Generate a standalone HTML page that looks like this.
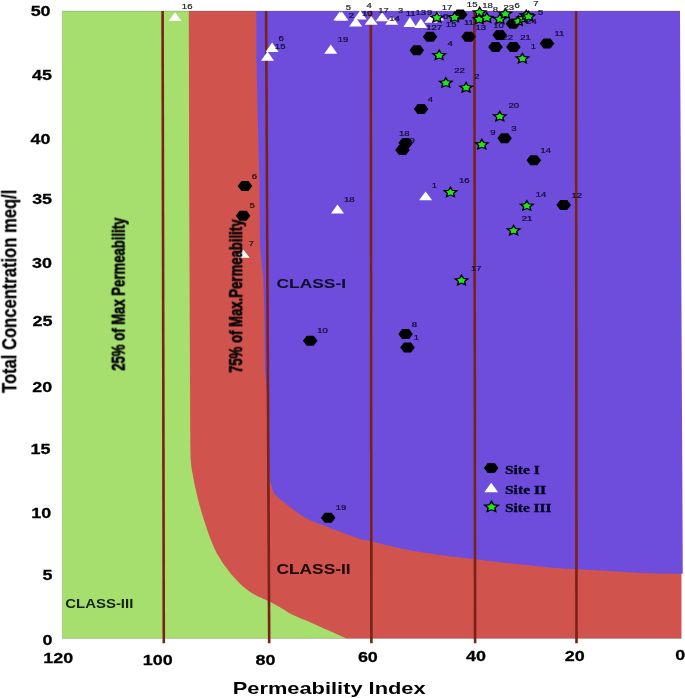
<!DOCTYPE html>
<html><head><meta charset="utf-8"><title>Permeability Index</title>
<style>html,body{margin:0;padding:0;background:#fff;font-family:"Liberation Sans",sans-serif}</style></head>
<body>
<svg width="685" height="698" viewBox="0 0 685 698" style="display:block">
<defs><filter id="b" x="-5%" y="-5%" width="110%" height="110%"><feGaussianBlur stdDeviation="0.45"/></filter><filter id="t" x="-5%" y="-5%" width="110%" height="110%"><feGaussianBlur stdDeviation="0.35"/></filter></defs>
<rect width="685" height="698" fill="#fff"/>
<clipPath id="cp"><rect x="62.3" y="11.1" width="619.2" height="627.3"/></clipPath>
<g filter="url(#b)"><g>
<rect x="57.3" y="6.1" width="622.2" height="637.3" fill="#a6df6e"/>
<polygon points="188.8,0 188.8,11.1 189.2,200.0 190.1,400.0 190.1,403.2 190.1,407.6 190.1,412.9 190.2,418.6 190.2,424.6 190.2,430.3 190.3,435.6 190.3,440.0 190.3,443.7 190.4,446.9 190.4,449.9 190.5,452.5 190.5,455.0 190.6,457.4 190.7,459.6 190.9,461.9 191.1,464.1 191.3,466.1 191.6,467.9 191.9,469.7 192.1,471.3 192.5,473.0 192.8,474.7 193.1,476.5 193.4,478.3 193.8,480.1 194.1,482.0 194.5,483.8 194.9,485.6 195.3,487.4 195.7,489.3 196.1,491.1 196.5,492.9 196.9,494.8 197.4,496.6 197.8,498.4 198.3,500.2 198.7,502.1 199.2,503.9 199.7,505.7 200.2,507.5 200.7,509.2 201.2,511.0 201.7,512.7 202.2,514.5 202.8,516.3 203.4,518.2 204.1,520.3 204.8,522.5 205.6,525.0 206.5,527.5 207.3,530.1 208.2,532.7 209.1,535.3 210.0,537.7 210.9,540.0 211.7,542.1 212.6,544.1 213.4,546.1 214.2,547.9 215.1,549.7 216.0,551.6 216.9,553.4 218.0,555.3 219.2,557.3 220.5,559.3 221.8,561.4 223.2,563.4 224.6,565.4 226.0,567.3 227.3,569.1 228.5,570.7 229.6,572.1 230.6,573.4 231.5,574.5 232.4,575.6 233.3,576.6 234.2,577.5 235.1,578.5 236.0,579.5 236.9,580.5 237.9,581.5 238.8,582.4 239.7,583.4 240.6,584.3 241.6,585.2 242.7,586.2 243.8,587.1 245.0,588.1 246.2,589.0 247.5,590.0 248.8,591.0 250.2,591.9 251.7,592.9 253.2,593.8 254.7,594.7 256.3,595.6 258.1,596.4 259.9,597.2 261.8,598.1 263.7,598.9 265.5,599.7 267.3,600.5 269.0,601.3 270.6,602.1 272.2,603.0 273.7,603.8 275.2,604.6 276.7,605.4 278.1,606.3 279.6,607.1 281.0,607.9 282.4,608.7 283.7,609.5 284.9,610.3 286.2,611.1 287.4,611.9 288.8,612.7 290.3,613.5 292.0,614.4 293.9,615.3 295.9,616.2 298.1,617.2 300.3,618.2 302.7,619.2 305.0,620.1 307.3,621.1 309.5,622.1 311.7,623.1 314.0,624.1 316.3,625.1 318.5,626.1 320.8,627.0 322.9,628.0 325.0,628.9 327.0,629.8 328.9,630.6 330.8,631.5 332.6,632.3 334.3,633.1 335.9,633.8 337.5,634.5 338.9,635.1 340.1,635.7 341.2,636.2 342.1,636.6 343.0,637.0 343.7,637.3 344.3,637.5 344.8,637.8 345.2,637.9 345.6,638.1 345.5,650 681.5,650 681.5,573 679.5,573 679.5,0" fill="#d1534d"/>
<polygon points="256.3,0 256.3,11.1 256.4,58.0 257.8,120.0 259.3,175.0 260.1,246.0 261.5,262.0 263.4,278.0 264.5,320.0 265.0,370.0 267.5,400.0 269.3,470.0 270.2,482.0 271.4,485.5 271.6,486.1 271.8,486.9 272.0,487.8 272.3,488.9 272.6,490.0 273.0,491.1 273.4,492.1 273.9,493.0 274.4,493.8 275.1,494.5 275.7,495.3 276.5,496.0 277.2,496.6 278.0,497.3 278.7,497.9 279.5,498.6 280.2,499.2 280.9,499.8 281.6,500.4 282.4,501.0 283.1,501.5 283.9,502.2 284.8,502.8 285.8,503.6 286.9,504.5 288.1,505.5 289.5,506.5 290.8,507.6 292.2,508.7 293.6,509.7 294.8,510.7 296.0,511.6 297.0,512.4 298.0,513.1 298.9,513.8 299.7,514.4 300.6,515.0 301.5,515.6 302.4,516.2 303.4,516.8 304.5,517.4 305.6,518.0 306.8,518.6 308.0,519.2 309.2,519.8 310.5,520.4 311.7,520.9 313.0,521.5 314.3,522.0 315.6,522.5 316.9,523.0 318.3,523.5 319.7,524.0 321.0,524.5 322.4,525.0 323.8,525.5 325.2,526.0 326.5,526.6 327.9,527.2 329.3,527.7 330.7,528.3 332.1,528.9 333.5,529.4 335.0,530.0 336.5,530.5 338.0,531.1 339.5,531.6 341.0,532.1 342.5,532.7 344.1,533.2 345.6,533.7 347.2,534.3 348.8,534.9 350.4,535.5 352.0,536.1 353.6,536.7 355.3,537.3 356.9,537.9 358.5,538.4 360.0,538.9 361.4,539.3 362.8,539.6 364.1,539.9 365.4,540.1 366.7,540.3 368.1,540.6 369.7,540.9 371.4,541.3 373.3,541.8 375.3,542.3 377.5,542.9 379.8,543.4 382.1,544.1 384.4,544.7 386.7,545.2 389.0,545.8 391.2,546.3 393.2,546.8 395.2,547.3 397.3,547.8 399.4,548.2 401.8,548.7 404.4,549.2 407.4,549.8 410.8,550.4 414.5,551.0 418.5,551.7 422.6,552.4 427.0,553.1 431.3,553.7 435.7,554.4 440.0,555.0 444.4,555.6 448.9,556.2 453.5,556.7 458.1,557.3 462.7,557.8 467.2,558.3 471.4,558.8 475.3,559.3 478.9,559.7 482.2,560.1 485.3,560.5 488.2,560.9 491.1,561.3 494.0,561.6 496.9,561.9 500.0,562.3 503.2,562.7 506.5,563.0 509.7,563.3 513.0,563.7 516.3,564.0 519.6,564.3 522.8,564.7 526.0,565.0 529.1,565.3 532.1,565.7 535.0,566.0 537.9,566.3 540.9,566.6 543.9,566.9 546.9,567.2 550.0,567.5 553.2,567.8 556.6,568.0 560.0,568.3 563.5,568.5 566.9,568.7 570.3,568.9 573.6,569.1 576.8,569.3 579.9,569.5 582.8,569.6 585.7,569.7 588.5,569.9 591.3,570.0 594.2,570.1 597.0,570.2 600.0,570.4 603.1,570.6 606.2,570.8 609.5,571.0 612.7,571.2 615.9,571.4 619.1,571.6 622.1,571.8 625.0,572.0 627.7,572.2 630.1,572.3 632.5,572.4 634.8,572.6 637.1,572.7 639.4,572.8 641.9,572.9 644.6,573.0 647.6,573.1 650.8,573.2 654.3,573.3 657.7,573.4 661.1,573.4 664.4,573.5 667.4,573.5 670.0,573.6 672.3,573.6 674.4,573.7 676.3,573.7 678.0,573.7 679.5,573.8 680.8,573.8 681.9,573.8 682.8,573.8 679.93,0" fill="#6e4edc"/>
<path d="M0,0H685V698H0Z M62.3,11.1V638.4H684V11.1Z" fill="#fff" fill-rule="evenodd"/>
<path d="M680,11.1H62.3V638.4H681.5" fill="none" stroke="#555" stroke-opacity="0.3" stroke-width="0.8"/>
</g></g>
<g filter="url(#b)">
<line x1="162.6" y1="11.1" x2="163.8" y2="643.2" stroke="#7a2219" stroke-width="2.6"/>
<line x1="266.1" y1="11.1" x2="269.2" y2="643.2" stroke="#7a2219" stroke-width="2.6"/>
<line x1="370.8" y1="11.1" x2="371.4" y2="643.2" stroke="#7a2219" stroke-width="2.6"/>
<line x1="474.4" y1="11.1" x2="475.1" y2="643.2" stroke="#7a2219" stroke-width="2.6"/>
<line x1="576.1" y1="11.1" x2="576.5" y2="643.2" stroke="#7a2219" stroke-width="2.6"/>
</g>
<g filter="url(#b)">
<polygon points="452.9,14.5 456.7,9.5 463.7,9.5 467.5,14.5 463.7,19.5 456.7,19.5" fill="#000"/>
<polygon points="422.8,36.8 426.6,31.8 433.6,31.8 437.4,36.8 433.6,41.8 426.6,41.8" fill="#000"/>
<polygon points="409.5,50.3 413.3,45.3 420.3,45.3 424.1,50.3 420.3,55.3 413.3,55.3" fill="#000"/>
<polygon points="461.2,36.8 465.0,31.8 472.0,31.8 475.8,36.8 472.0,41.8 465.0,41.8" fill="#000"/>
<polygon points="492.4,35.1 496.2,30.1 503.2,30.1 507.0,35.1 503.2,40.1 496.2,40.1" fill="#000"/>
<polygon points="488.2,47.0 492.0,42.0 499.0,42.0 502.8,47.0 499.0,52.0 492.0,52.0" fill="#000"/>
<polygon points="506.1,47.1 509.9,42.1 516.9,42.1 520.7,47.1 516.9,52.1 509.9,52.1" fill="#000"/>
<polygon points="505.7,23.7 509.5,18.7 516.5,18.7 520.3,23.7 516.5,28.7 509.5,28.7" fill="#000"/>
<polygon points="539.7,43.6 543.5,38.6 550.5,38.6 554.3,43.6 550.5,48.6 543.5,48.6" fill="#000"/>
<polygon points="413.8,109.0 417.6,104.0 424.6,104.0 428.4,109.0 424.6,114.0 417.6,114.0" fill="#000"/>
<polygon points="398.4,142.9 402.2,137.9 409.2,137.9 413.0,142.9 409.2,147.9 402.2,147.9" fill="#000"/>
<polygon points="395.2,150.0 399.0,145.0 406.0,145.0 409.8,150.0 406.0,155.0 399.0,155.0" fill="#000"/>
<polygon points="497.3,138.2 501.1,133.2 508.1,133.2 511.9,138.2 508.1,143.2 501.1,143.2" fill="#000"/>
<polygon points="526.5,160.3 530.3,155.3 537.3,155.3 541.1,160.3 537.3,165.3 530.3,165.3" fill="#000"/>
<polygon points="556.4,205.0 560.2,200.0 567.2,200.0 571.0,205.0 567.2,210.0 560.2,210.0" fill="#000"/>
<polygon points="237.7,186.0 241.5,181.0 248.5,181.0 252.3,186.0 248.5,191.0 241.5,191.0" fill="#000"/>
<polygon points="235.8,215.8 239.6,210.8 246.6,210.8 250.4,215.8 246.6,220.8 239.6,220.8" fill="#000"/>
<polygon points="302.9,340.8 306.7,335.8 313.7,335.8 317.5,340.8 313.7,345.8 306.7,345.8" fill="#000"/>
<polygon points="398.3,334.0 402.1,329.0 409.1,329.0 412.9,334.0 409.1,339.0 402.1,339.0" fill="#000"/>
<polygon points="400.2,347.5 404.0,342.5 411.0,342.5 414.8,347.5 411.0,352.5 404.0,352.5" fill="#000"/>
<polygon points="320.9,517.7 324.7,512.7 331.7,512.7 335.5,517.7 331.7,522.7 324.7,522.7" fill="#000"/>
<polygon points="175.0,12.2 181.5,21.0 168.5,21.0" fill="#fff"/>
<polygon points="339.8,11.6 346.3,20.6 333.3,20.6" fill="#fff"/>
<polygon points="341.9,11.6 348.4,20.6 335.4,20.6" fill="#fff"/>
<polygon points="355.7,17.5 362.2,26.6 349.2,26.6" fill="#fff"/>
<polygon points="360.2,10.4 366.7,19.4 353.7,19.4" fill="#fff"/>
<polygon points="371.2,16.0 377.7,24.7 364.7,24.7" fill="#fff"/>
<polygon points="382.2,12.3 388.7,21.3 375.7,21.3" fill="#fff"/>
<polygon points="391.7,15.6 398.2,24.7 385.2,24.7" fill="#fff"/>
<polygon points="409.9,17.1 416.4,26.9 403.4,26.9" fill="#fff"/>
<polygon points="420.8,18.5 427.3,28.0 414.3,28.0" fill="#fff"/>
<polygon points="431.0,14.5 437.5,22.8 424.5,22.8" fill="#fff"/>
<polygon points="437.5,11.5 444.0,20.5 431.0,20.5" fill="#fff"/>
<polygon points="330.8,44.6 337.3,53.7 324.3,53.7" fill="#fff"/>
<polygon points="272.1,42.5 278.6,51.9 265.6,51.9" fill="#fff"/>
<polygon points="267.5,51.6 274.0,60.8 261.0,60.8" fill="#fff"/>
<polygon points="425.6,191.5 432.1,200.2 419.1,200.2" fill="#fff"/>
<polygon points="337.5,204.6 344.0,213.6 331.0,213.6" fill="#fff"/>
<polygon points="243.2,249.6 249.7,257.8 236.7,257.8" fill="#fff"/>
<polygon points="436.90,11.04 439.25,15.19 444.99,15.67 440.70,18.71 441.90,23.16 436.90,20.89 431.90,23.16 433.10,18.71 428.81,15.67 434.55,15.19" fill="#050505"/><polygon points="436.90,14.05 438.44,16.07 441.35,16.60 439.39,18.37 439.65,20.72 436.90,19.80 434.15,20.72 434.41,18.37 432.45,16.60 435.36,16.07" fill="#1fe61f"/>
<polygon points="454.60,10.74 456.95,14.89 462.69,15.37 458.40,18.41 459.60,22.86 454.60,20.59 449.60,22.86 450.80,18.41 446.51,15.37 452.25,14.89" fill="#050505"/><polygon points="454.60,13.75 456.14,15.77 459.05,16.30 457.09,18.07 457.35,20.42 454.60,19.50 451.85,20.42 452.11,18.07 450.15,16.30 453.06,15.77" fill="#1fe61f"/>
<polygon points="479.70,5.84 482.05,9.99 487.79,10.47 483.50,13.51 484.70,17.96 479.70,15.69 474.70,17.96 475.90,13.51 471.61,10.47 477.35,9.99" fill="#050505"/><polygon points="479.70,8.85 481.24,10.87 484.15,11.40 482.19,13.17 482.45,15.52 479.70,14.60 476.95,15.52 477.21,13.17 475.25,11.40 478.16,10.87" fill="#1fe61f"/>
<polygon points="479.20,12.74 481.55,16.89 487.29,17.37 483.00,20.41 484.20,24.86 479.20,22.59 474.20,24.86 475.40,20.41 471.11,17.37 476.85,16.89" fill="#050505"/><polygon points="479.20,15.75 480.74,17.77 483.65,18.30 481.69,20.07 481.95,22.42 479.20,21.50 476.45,22.42 476.71,20.07 474.75,18.30 477.66,17.77" fill="#1fe61f"/>
<polygon points="486.80,11.34 489.15,15.49 494.89,15.97 490.60,19.01 491.80,23.46 486.80,21.19 481.80,23.46 483.00,19.01 478.71,15.97 484.45,15.49" fill="#050505"/><polygon points="486.80,14.35 488.34,16.37 491.25,16.90 489.29,18.67 489.55,21.02 486.80,20.10 484.05,21.02 484.31,18.67 482.35,16.90 485.26,16.37" fill="#1fe61f"/>
<polygon points="499.90,12.54 502.25,16.69 507.99,17.17 503.70,20.21 504.90,24.66 499.90,22.39 494.90,24.66 496.10,20.21 491.81,17.17 497.55,16.69" fill="#050505"/><polygon points="499.90,15.55 501.44,17.57 504.35,18.10 502.39,19.87 502.65,22.22 499.90,21.30 497.15,22.22 497.41,19.87 495.45,18.10 498.36,17.57" fill="#1fe61f"/>
<polygon points="505.40,7.14 507.75,11.29 513.49,11.77 509.20,14.81 510.40,19.26 505.40,16.99 500.40,19.26 501.60,14.81 497.31,11.77 503.05,11.29" fill="#050505"/><polygon points="505.40,10.15 506.94,12.17 509.85,12.70 507.89,14.47 508.15,16.82 505.40,15.90 502.65,16.82 502.91,14.47 500.95,12.70 503.86,12.17" fill="#1fe61f"/>
<polygon points="518.30,14.44 520.65,18.59 526.39,19.07 522.10,22.11 523.30,26.56 518.30,24.29 513.30,26.56 514.50,22.11 510.21,19.07 515.95,18.59" fill="#050505"/><polygon points="518.30,17.45 519.84,19.47 522.75,20.00 520.79,21.77 521.05,24.12 518.30,23.20 515.55,24.12 515.81,21.77 513.85,20.00 516.76,19.47" fill="#1fe61f"/>
<polygon points="523.40,11.94 525.75,16.09 531.49,16.57 527.20,19.61 528.40,24.06 523.40,21.79 518.40,24.06 519.60,19.61 515.31,16.57 521.05,16.09" fill="#050505"/><polygon points="523.40,14.95 524.94,16.97 527.85,17.50 525.89,19.27 526.15,21.62 523.40,20.70 520.65,21.62 520.91,19.27 518.95,17.50 521.86,16.97" fill="#1fe61f"/>
<polygon points="526.30,8.74 528.65,12.89 534.39,13.37 530.10,16.41 531.30,20.86 526.30,18.59 521.30,20.86 522.50,16.41 518.21,13.37 523.95,12.89" fill="#050505"/><polygon points="526.30,11.75 527.84,13.77 530.75,14.30 528.79,16.07 529.05,18.42 526.30,17.50 523.55,18.42 523.81,16.07 521.85,14.30 524.76,13.77" fill="#1fe61f"/>
<polygon points="528.60,9.94 530.95,14.09 536.69,14.57 532.40,17.61 533.60,22.06 528.60,19.79 523.60,22.06 524.80,17.61 520.51,14.57 526.25,14.09" fill="#050505"/><polygon points="528.60,12.95 530.14,14.97 533.05,15.50 531.09,17.27 531.35,19.62 528.60,18.70 525.85,19.62 526.11,17.27 524.15,15.50 527.06,14.97" fill="#1fe61f"/>
<polygon points="439.20,48.74 441.55,52.89 447.29,53.37 443.00,56.41 444.20,60.86 439.20,58.59 434.20,60.86 435.40,56.41 431.11,53.37 436.85,52.89" fill="#050505"/><polygon points="439.20,51.75 440.74,53.77 443.65,54.30 441.69,56.07 441.95,58.42 439.20,57.50 436.45,58.42 436.71,56.07 434.75,54.30 437.66,53.77" fill="#1fe61f"/>
<polygon points="522.40,51.94 524.75,56.09 530.49,56.57 526.20,59.61 527.40,64.06 522.40,61.79 517.40,64.06 518.60,59.61 514.31,56.57 520.05,56.09" fill="#050505"/><polygon points="522.40,54.95 523.94,56.97 526.85,57.50 524.89,59.27 525.15,61.62 522.40,60.70 519.65,61.62 519.91,59.27 517.95,57.50 520.86,56.97" fill="#1fe61f"/>
<polygon points="445.80,76.24 448.15,80.39 453.89,80.87 449.60,83.91 450.80,88.36 445.80,86.09 440.80,88.36 442.00,83.91 437.71,80.87 443.45,80.39" fill="#050505"/><polygon points="445.80,79.25 447.34,81.27 450.25,81.80 448.29,83.57 448.55,85.92 445.80,85.00 443.05,85.92 443.31,83.57 441.35,81.80 444.26,81.27" fill="#1fe61f"/>
<polygon points="466.10,81.04 468.45,85.19 474.19,85.67 469.90,88.71 471.10,93.16 466.10,90.89 461.10,93.16 462.30,88.71 458.01,85.67 463.75,85.19" fill="#050505"/><polygon points="466.10,84.05 467.64,86.07 470.55,86.60 468.59,88.37 468.85,90.72 466.10,89.80 463.35,90.72 463.61,88.37 461.65,86.60 464.56,86.07" fill="#1fe61f"/>
<polygon points="499.80,109.94 502.15,114.09 507.89,114.57 503.60,117.61 504.80,122.06 499.80,119.79 494.80,122.06 496.00,117.61 491.71,114.57 497.45,114.09" fill="#050505"/><polygon points="499.80,112.95 501.34,114.97 504.25,115.50 502.29,117.27 502.55,119.62 499.80,118.70 497.05,119.62 497.31,117.27 495.35,115.50 498.26,114.97" fill="#1fe61f"/>
<polygon points="481.80,137.94 484.15,142.09 489.89,142.57 485.60,145.61 486.80,150.06 481.80,147.79 476.80,150.06 478.00,145.61 473.71,142.57 479.45,142.09" fill="#050505"/><polygon points="481.80,140.95 483.34,142.97 486.25,143.50 484.29,145.27 484.55,147.62 481.80,146.70 479.05,147.62 479.31,145.27 477.35,143.50 480.26,142.97" fill="#1fe61f"/>
<polygon points="450.50,185.74 452.85,189.89 458.59,190.37 454.30,193.41 455.50,197.86 450.50,195.59 445.50,197.86 446.70,193.41 442.41,190.37 448.15,189.89" fill="#050505"/><polygon points="450.50,188.75 452.04,190.77 454.95,191.30 452.99,193.07 453.25,195.42 450.50,194.50 447.75,195.42 448.01,193.07 446.05,191.30 448.96,190.77" fill="#1fe61f"/>
<polygon points="526.80,199.24 529.15,203.39 534.89,203.87 530.60,206.91 531.80,211.36 526.80,209.09 521.80,211.36 523.00,206.91 518.71,203.87 524.45,203.39" fill="#050505"/><polygon points="526.80,202.25 528.34,204.27 531.25,204.80 529.29,206.57 529.55,208.92 526.80,208.00 524.05,208.92 524.31,206.57 522.35,204.80 525.26,204.27" fill="#1fe61f"/>
<polygon points="513.60,223.94 515.95,228.09 521.69,228.57 517.40,231.61 518.60,236.06 513.60,233.79 508.60,236.06 509.80,231.61 505.51,228.57 511.25,228.09" fill="#050505"/><polygon points="513.60,226.95 515.14,228.97 518.05,229.50 516.09,231.27 516.35,233.62 513.60,232.70 510.85,233.62 511.11,231.27 509.15,229.50 512.06,228.97" fill="#1fe61f"/>
<polygon points="461.50,273.84 463.85,277.99 469.59,278.47 465.30,281.51 466.50,285.96 461.50,283.69 456.50,285.96 457.70,281.51 453.41,278.47 459.15,277.99" fill="#050505"/><polygon points="461.50,276.85 463.04,278.87 465.95,279.40 463.99,281.17 464.25,283.52 461.50,282.60 458.75,283.52 459.01,281.17 457.05,279.40 459.96,278.87" fill="#1fe61f"/>
<polygon points="483.9,468.0 487.7,463.0 494.7,463.0 498.5,468.0 494.7,473.0 487.7,473.0" fill="#000"/>
<polygon points="491.2,482.8 498.1,492.3 484.3,492.3" fill="#fff"/>
<polygon points="491.50,499.78 494.03,504.25 500.20,504.76 495.59,508.03 496.87,512.81 491.50,510.37 486.13,512.81 487.41,508.03 482.80,504.76 488.97,504.25" fill="#050505"/><polygon points="491.50,503.02 493.16,505.19 496.28,505.76 494.18,507.67 494.46,510.19 491.50,509.20 488.54,510.19 488.82,507.67 486.72,505.76 489.84,505.19" fill="#1fe61f"/>
</g>
<g filter="url(#t)">
<text transform="translate(30.63,16.26) scale(1.3000,1)" font-family="Liberation Sans" font-weight="bold" font-size="13.80" fill="#000" stroke="#000" stroke-width="0.25">50</text>
<text transform="translate(31.93,80.09) scale(1.3000,1)" font-family="Liberation Sans" font-weight="bold" font-size="13.80" fill="#000" stroke="#000" stroke-width="0.25">45</text>
<text transform="translate(30.57,143.86) scale(1.3000,1)" font-family="Liberation Sans" font-weight="bold" font-size="13.80" fill="#000" stroke="#000" stroke-width="0.25">40</text>
<text transform="translate(32.14,203.66) scale(1.3000,1)" font-family="Liberation Sans" font-weight="bold" font-size="13.80" fill="#000" stroke="#000" stroke-width="0.25">35</text>
<text transform="translate(32.08,267.56) scale(1.3000,1)" font-family="Liberation Sans" font-weight="bold" font-size="13.80" fill="#000" stroke="#000" stroke-width="0.25">30</text>
<text transform="translate(32.45,326.16) scale(1.3000,1)" font-family="Liberation Sans" font-weight="bold" font-size="13.80" fill="#000" stroke="#000" stroke-width="0.25">25</text>
<text transform="translate(32.19,391.86) scale(1.3000,1)" font-family="Liberation Sans" font-weight="bold" font-size="13.80" fill="#000" stroke="#000" stroke-width="0.25">20</text>
<text transform="translate(30.53,454.09) scale(1.3000,1)" font-family="Liberation Sans" font-weight="bold" font-size="13.80" fill="#000" stroke="#000" stroke-width="0.25">15</text>
<text transform="translate(31.36,517.76) scale(1.3000,1)" font-family="Liberation Sans" font-weight="bold" font-size="13.80" fill="#000" stroke="#000" stroke-width="0.25">10</text>
<text transform="translate(42.58,580.29) scale(1.3000,1)" font-family="Liberation Sans" font-weight="bold" font-size="13.80" fill="#000" stroke="#000" stroke-width="0.25">5</text>
<text transform="translate(42.62,644.66) scale(1.3000,1)" font-family="Liberation Sans" font-weight="bold" font-size="13.80" fill="#000" stroke="#000" stroke-width="0.25">0</text>
<text transform="translate(43.19,662.96) scale(1.3000,1)" font-family="Liberation Sans" font-weight="bold" font-size="13.80" fill="#000" stroke="#000" stroke-width="0.25">120</text>
<text transform="translate(142.69,664.76) scale(1.3000,1)" font-family="Liberation Sans" font-weight="bold" font-size="13.80" fill="#000" stroke="#000" stroke-width="0.25">100</text>
<text transform="translate(255.43,664.76) scale(1.3000,1)" font-family="Liberation Sans" font-weight="bold" font-size="13.80" fill="#000" stroke="#000" stroke-width="0.25">80</text>
<text transform="translate(357.89,661.96) scale(1.3000,1)" font-family="Liberation Sans" font-weight="bold" font-size="13.80" fill="#000" stroke="#000" stroke-width="0.25">60</text>
<text transform="translate(465.97,660.66) scale(1.3000,1)" font-family="Liberation Sans" font-weight="bold" font-size="13.80" fill="#000" stroke="#000" stroke-width="0.25">40</text>
<text transform="translate(564.79,660.66) scale(1.3000,1)" font-family="Liberation Sans" font-weight="bold" font-size="13.80" fill="#000" stroke="#000" stroke-width="0.25">20</text>
<text transform="translate(675.32,659.76) scale(1.3000,1)" font-family="Liberation Sans" font-weight="bold" font-size="13.80" fill="#000" stroke="#000" stroke-width="0.25">0</text>
<text transform="translate(16.24,392.87) rotate(-90) scale(0.7997,1)" font-family="Liberation Sans" font-weight="bold" font-size="20.75" fill="#000" stroke="#000" stroke-width="0.25">Total Concentration meq/l</text>
<text transform="translate(232.68,693.79) scale(1.3433,1)" font-family="Liberation Sans" font-weight="bold" font-size="16.26" fill="#000" >Permeability Index</text>
<text transform="translate(65.20,607.77) scale(1.1807,1)" font-family="Liberation Sans" font-weight="bold" font-size="12.68" fill="#16240f" >CLASS-III</text>
<text transform="translate(276.41,574.15) scale(1.1968,1)" font-family="Liberation Sans" font-weight="bold" font-size="14.51" fill="#1c0808" >CLASS-II</text>
<text transform="translate(276.50,288.36) scale(1.2871,1)" font-family="Liberation Sans" font-weight="bold" font-size="13.52" fill="#0c0a26" >CLASS-I</text>
<text transform="translate(124.70,370.76) rotate(-90) scale(0.7269,1)" font-family="Liberation Sans" font-weight="bold" font-size="18.07" fill="#000" stroke="#000" stroke-width="0.5" vector-effect="non-scaling-stroke" stroke-linejoin="round">25% of Max Permeability</text>
<text transform="translate(242.18,372.93) rotate(-90) scale(0.7239,1)" font-family="Liberation Sans" font-weight="bold" font-size="18.18" fill="#000" stroke="#000" stroke-width="0.5" vector-effect="non-scaling-stroke" stroke-linejoin="round">75% of Max.Permeability</text>
</g>
<g filter="url(#t)">
<text transform="translate(181.85,9.19) scale(1.2700,1)" font-family="Liberation Sans" font-weight="normal" font-size="7.50" fill="#222" stroke="#222" stroke-width="0.2">16</text>
<text transform="translate(345.86,9.55) scale(1.2700,1)" font-family="Liberation Sans" font-weight="normal" font-size="7.50" fill="#222" stroke="#222" stroke-width="0.2">5</text>
<text transform="translate(366.40,7.89) scale(1.2700,1)" font-family="Liberation Sans" font-weight="normal" font-size="7.50" fill="#222" stroke="#222" stroke-width="0.2">4</text>
<text transform="translate(348.66,18.02) scale(1.2700,1)" font-family="Liberation Sans" font-weight="normal" font-size="7.50" fill="#0f0b33" stroke="#0f0b33" stroke-width="0.2">2</text>
<text transform="translate(361.92,15.89) scale(1.2700,1)" font-family="Liberation Sans" font-weight="normal" font-size="7.50" fill="#0f0b33" stroke="#0f0b33" stroke-width="0.2">10</text>
<text transform="translate(378.19,12.79) scale(1.2700,1)" font-family="Liberation Sans" font-weight="normal" font-size="7.50" fill="#222" stroke="#222" stroke-width="0.2">17</text>
<text transform="translate(397.96,12.99) scale(1.2700,1)" font-family="Liberation Sans" font-weight="normal" font-size="7.50" fill="#222" stroke="#222" stroke-width="0.2">3</text>
<text transform="translate(389.30,21.49) scale(1.2700,1)" font-family="Liberation Sans" font-weight="normal" font-size="7.50" fill="#0f0b33" stroke="#0f0b33" stroke-width="0.2">14</text>
<text transform="translate(405.63,16.29) scale(1.2700,1)" font-family="Liberation Sans" font-weight="normal" font-size="7.50" fill="#0f0b33" stroke="#0f0b33" stroke-width="0.2">11</text>
<text transform="translate(415.55,14.59) scale(1.2700,1)" font-family="Liberation Sans" font-weight="normal" font-size="7.50" fill="#0f0b33" stroke="#0f0b33" stroke-width="0.2">13</text>
<text transform="translate(427.06,15.49) scale(1.2700,1)" font-family="Liberation Sans" font-weight="normal" font-size="7.50" fill="#0f0b33" stroke="#0f0b33" stroke-width="0.2">9</text>
<text transform="translate(426.25,29.62) scale(1.2700,1)" font-family="Liberation Sans" font-weight="normal" font-size="7.50" fill="#0f0b33" stroke="#0f0b33" stroke-width="0.2">127</text>
<text transform="translate(337.67,42.09) scale(1.2700,1)" font-family="Liberation Sans" font-weight="normal" font-size="7.50" fill="#0f0b33" stroke="#0f0b33" stroke-width="0.2">19</text>
<text transform="translate(441.69,10.39) scale(1.2700,1)" font-family="Liberation Sans" font-weight="normal" font-size="7.50" fill="#222" stroke="#222" stroke-width="0.2">17</text>
<text transform="translate(466.85,7.15) scale(1.2700,1)" font-family="Liberation Sans" font-weight="normal" font-size="7.50" fill="#222" stroke="#222" stroke-width="0.2">15</text>
<text transform="translate(482.15,8.09) scale(1.2700,1)" font-family="Liberation Sans" font-weight="normal" font-size="7.50" fill="#222" stroke="#222" stroke-width="0.2">18</text>
<text transform="translate(492.73,11.69) scale(1.2700,1)" font-family="Liberation Sans" font-weight="normal" font-size="7.50" fill="#222" stroke="#222" stroke-width="0.2">8</text>
<text transform="translate(503.47,9.79) scale(1.2700,1)" font-family="Liberation Sans" font-weight="normal" font-size="7.50" fill="#222" stroke="#222" stroke-width="0.2">23</text>
<text transform="translate(514.51,8.29) scale(1.2700,1)" font-family="Liberation Sans" font-weight="normal" font-size="7.50" fill="#222" stroke="#222" stroke-width="0.2">6</text>
<text transform="translate(533.16,6.09) scale(1.2700,1)" font-family="Liberation Sans" font-weight="normal" font-size="7.50" fill="#222" stroke="#222" stroke-width="0.2">7</text>
<text transform="translate(537.96,14.75) scale(1.2700,1)" font-family="Liberation Sans" font-weight="normal" font-size="7.50" fill="#0f0b33" stroke="#0f0b33" stroke-width="0.2">5</text>
<text transform="translate(526.12,24.43) scale(1.2700,1)" font-family="Liberation Sans" font-weight="normal" font-size="7.50" fill="#0f0b33" stroke="#0f0b33" stroke-width="0.2">24</text>
<text transform="translate(445.85,27.25) scale(1.2700,1)" font-family="Liberation Sans" font-weight="normal" font-size="7.50" fill="#0f0b33" stroke="#0f0b33" stroke-width="0.2">15</text>
<text transform="translate(463.93,24.99) scale(1.2700,1)" font-family="Liberation Sans" font-weight="normal" font-size="7.50" fill="#0f0b33" stroke="#0f0b33" stroke-width="0.2">11</text>
<text transform="translate(475.55,29.59) scale(1.2700,1)" font-family="Liberation Sans" font-weight="normal" font-size="7.50" fill="#0f0b33" stroke="#0f0b33" stroke-width="0.2">13</text>
<text transform="translate(493.22,28.19) scale(1.2700,1)" font-family="Liberation Sans" font-weight="normal" font-size="7.50" fill="#0f0b33" stroke="#0f0b33" stroke-width="0.2">10</text>
<text transform="translate(502.41,39.62) scale(1.2700,1)" font-family="Liberation Sans" font-weight="normal" font-size="7.50" fill="#0f0b33" stroke="#0f0b33" stroke-width="0.2">22</text>
<text transform="translate(520.29,39.62) scale(1.2700,1)" font-family="Liberation Sans" font-weight="normal" font-size="7.50" fill="#0f0b33" stroke="#0f0b33" stroke-width="0.2">21</text>
<text transform="translate(530.71,49.09) scale(1.2700,1)" font-family="Liberation Sans" font-weight="normal" font-size="7.50" fill="#0f0b33" stroke="#0f0b33" stroke-width="0.2">1</text>
<text transform="translate(447.40,45.89) scale(1.2700,1)" font-family="Liberation Sans" font-weight="normal" font-size="7.50" fill="#0f0b33" stroke="#0f0b33" stroke-width="0.2">4</text>
<text transform="translate(442.91,19.29) scale(1.2700,1)" font-family="Liberation Sans" font-weight="normal" font-size="7.50" fill="#0f0b33" stroke="#0f0b33" stroke-width="0.2">6</text>
<text transform="translate(554.43,36.39) scale(1.2700,1)" font-family="Liberation Sans" font-weight="normal" font-size="7.50" fill="#0f0b33" stroke="#0f0b33" stroke-width="0.2">11</text>
<text transform="translate(454.31,73.03) scale(1.2700,1)" font-family="Liberation Sans" font-weight="normal" font-size="7.50" fill="#0f0b33" stroke="#0f0b33" stroke-width="0.2">22</text>
<text transform="translate(474.36,78.53) scale(1.2700,1)" font-family="Liberation Sans" font-weight="normal" font-size="7.50" fill="#0f0b33" stroke="#0f0b33" stroke-width="0.2">2</text>
<text transform="translate(427.80,101.89) scale(1.2700,1)" font-family="Liberation Sans" font-weight="normal" font-size="7.50" fill="#0f0b33" stroke="#0f0b33" stroke-width="0.2">4</text>
<text transform="translate(508.54,107.59) scale(1.2700,1)" font-family="Liberation Sans" font-weight="normal" font-size="7.50" fill="#0f0b33" stroke="#0f0b33" stroke-width="0.2">20</text>
<text transform="translate(511.26,130.79) scale(1.2700,1)" font-family="Liberation Sans" font-weight="normal" font-size="7.50" fill="#0f0b33" stroke="#0f0b33" stroke-width="0.2">3</text>
<text transform="translate(490.36,135.29) scale(1.2700,1)" font-family="Liberation Sans" font-weight="normal" font-size="7.50" fill="#0f0b33" stroke="#0f0b33" stroke-width="0.2">9</text>
<text transform="translate(398.95,135.59) scale(1.2700,1)" font-family="Liberation Sans" font-weight="normal" font-size="7.50" fill="#0f0b33" stroke="#0f0b33" stroke-width="0.2">18</text>
<text transform="translate(409.46,142.69) scale(1.2700,1)" font-family="Liberation Sans" font-weight="normal" font-size="7.50" fill="#0f0b33" stroke="#0f0b33" stroke-width="0.2">9</text>
<text transform="translate(540.50,152.99) scale(1.2700,1)" font-family="Liberation Sans" font-weight="normal" font-size="7.50" fill="#0f0b33" stroke="#0f0b33" stroke-width="0.2">14</text>
<text transform="translate(459.05,183.19) scale(1.2700,1)" font-family="Liberation Sans" font-weight="normal" font-size="7.50" fill="#0f0b33" stroke="#0f0b33" stroke-width="0.2">16</text>
<text transform="translate(431.81,188.29) scale(1.2700,1)" font-family="Liberation Sans" font-weight="normal" font-size="7.50" fill="#0f0b33" stroke="#0f0b33" stroke-width="0.2">1</text>
<text transform="translate(535.70,196.99) scale(1.2700,1)" font-family="Liberation Sans" font-weight="normal" font-size="7.50" fill="#0f0b33" stroke="#0f0b33" stroke-width="0.2">14</text>
<text transform="translate(571.49,197.93) scale(1.2700,1)" font-family="Liberation Sans" font-weight="normal" font-size="7.50" fill="#0f0b33" stroke="#0f0b33" stroke-width="0.2">12</text>
<text transform="translate(521.69,221.43) scale(1.2700,1)" font-family="Liberation Sans" font-weight="normal" font-size="7.50" fill="#0f0b33" stroke="#0f0b33" stroke-width="0.2">21</text>
<text transform="translate(470.89,270.59) scale(1.2700,1)" font-family="Liberation Sans" font-weight="normal" font-size="7.50" fill="#0f0b33" stroke="#0f0b33" stroke-width="0.2">17</text>
<text transform="translate(251.71,178.89) scale(1.2700,1)" font-family="Liberation Sans" font-weight="normal" font-size="7.50" fill="#2a0c0c" stroke="#2a0c0c" stroke-width="0.2">6</text>
<text transform="translate(249.46,207.75) scale(1.2700,1)" font-family="Liberation Sans" font-weight="normal" font-size="7.50" fill="#2a0c0c" stroke="#2a0c0c" stroke-width="0.2">5</text>
<text transform="translate(248.86,246.39) scale(1.2700,1)" font-family="Liberation Sans" font-weight="normal" font-size="7.50" fill="#2a0c0c" stroke="#2a0c0c" stroke-width="0.2">7</text>
<text transform="translate(343.95,201.69) scale(1.2700,1)" font-family="Liberation Sans" font-weight="normal" font-size="7.50" fill="#0f0b33" stroke="#0f0b33" stroke-width="0.2">18</text>
<text transform="translate(317.32,333.39) scale(1.2700,1)" font-family="Liberation Sans" font-weight="normal" font-size="7.50" fill="#0f0b33" stroke="#0f0b33" stroke-width="0.2">10</text>
<text transform="translate(411.63,326.59) scale(1.2700,1)" font-family="Liberation Sans" font-weight="normal" font-size="7.50" fill="#0f0b33" stroke="#0f0b33" stroke-width="0.2">8</text>
<text transform="translate(413.71,340.49) scale(1.2700,1)" font-family="Liberation Sans" font-weight="normal" font-size="7.50" fill="#0f0b33" stroke="#0f0b33" stroke-width="0.2">1</text>
<text transform="translate(335.77,510.39) scale(1.2700,1)" font-family="Liberation Sans" font-weight="normal" font-size="7.50" fill="#0f0b33" stroke="#0f0b33" stroke-width="0.2">19</text>
<text transform="translate(278.51,40.59) scale(1.2700,1)" font-family="Liberation Sans" font-weight="normal" font-size="7.50" fill="#0f0b33" stroke="#0f0b33" stroke-width="0.2">6</text>
<text transform="translate(274.85,48.75) scale(1.2700,1)" font-family="Liberation Sans" font-weight="normal" font-size="7.50" fill="#0f0b33" stroke="#0f0b33" stroke-width="0.2">15</text>
<text transform="translate(504.95,474.48) scale(1.3334,1)" font-family="Liberation Serif" font-weight="bold" font-size="11.63" fill="#06051c" stroke="#06051c" stroke-width="0.3">Site I</text>
<text transform="translate(504.94,494.08) scale(1.3419,1)" font-family="Liberation Serif" font-weight="bold" font-size="11.63" fill="#06051c" stroke="#06051c" stroke-width="0.3">Site II</text>
<text transform="translate(504.95,512.48) scale(1.3218,1)" font-family="Liberation Serif" font-weight="bold" font-size="11.63" fill="#06051c" stroke="#06051c" stroke-width="0.3">Site III</text>
</g>
</svg>
</body></html>
